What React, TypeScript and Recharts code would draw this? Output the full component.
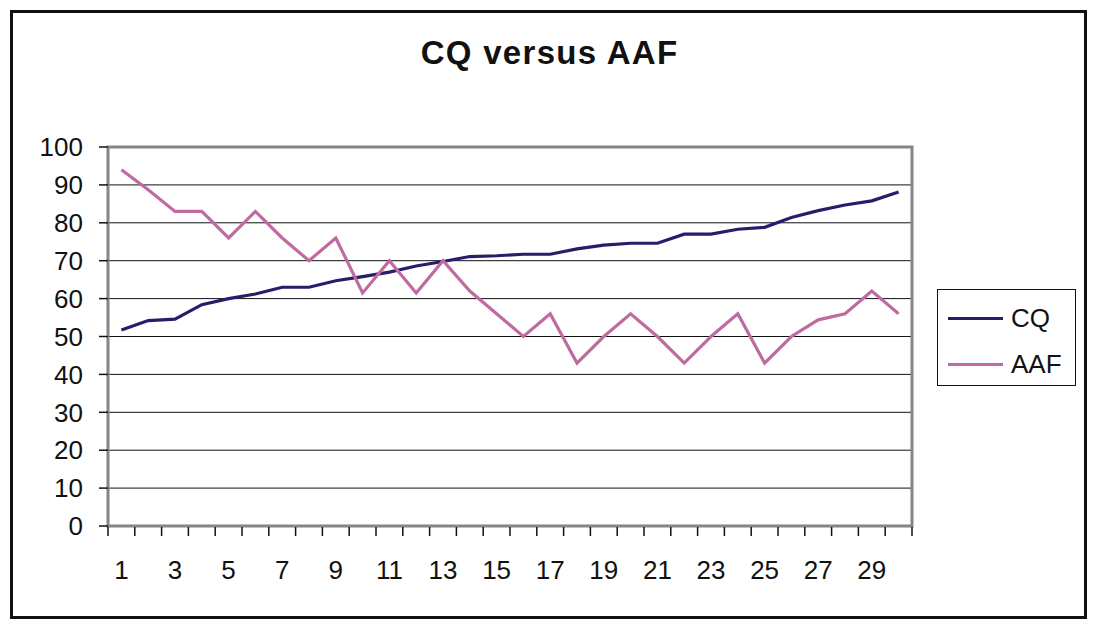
import React from "react";
import {
  LineChart,
  Line,
  XAxis,
  YAxis,
  CartesianGrid,
  ReferenceArea,
} from "recharts";

// values
const categories = [
  1, 2, 3, 4, 5, 6, 7, 8, 9, 10, 11, 12, 13, 14, 15, 16, 17, 18, 19, 20, 21, 22, 23, 24, 25, 26, 27, 28, 29, 30,
];
const cqValues = [
  51.7, 54.2, 54.6, 58.4, 60, 61.2, 63, 63, 64.7, 65.8, 67, 68.6, 69.8, 71.1, 71.3, 71.7, 71.7, 73.1, 74.1, 74.6,
  74.6, 77, 77, 78.3, 78.8, 81.4, 83.2, 84.7, 85.8, 88.1,
];
const aafValues = [
  94, 88.7, 83, 83, 76, 83, 76, 70, 76, 61.5, 70, 61.5, 70, 62, 56, 50, 56, 43, 50, 56, 50, 43, 50, 56, 43, 50,
  54.4, 56, 62, 56,
];
const yTicks = [0, 10, 20, 30, 40, 50, 60, 70, 80, 90, 100];
const xLabels = categories.filter((c) => c % 2 === 1);

const CQ_COLOR = "#2b1b6b";
const AAF_COLOR = "#bf6ba0";
const FONT = "'Liberation Sans', Arial, sans-serif";

const data = categories.map((c, i) => ({ x: c, cq: cqValues[i], aaf: aafValues[i] }));
const bandEdges = [...categories.map((c) => c - 0.5), categories[categories.length - 1] + 0.5];
const xDomain = [bandEdges[0], bandEdges[bandEdges.length - 1]];
// tick marks sit between categories, labels on every other category
const xTicks = [...bandEdges, ...xLabels].sort((a, b) => a - b);

function XTick({ x, y, payload }: any) {
  const v = payload.value;
  if (!Number.isInteger(v)) {
    return <line x1={x} x2={x} y1={y + 1} y2={y + 10} stroke="#111" strokeWidth={1.5} />;
  }
  return (
    <text x={x} y={y + 35} dy="0.71em" textAnchor="middle" fill="#111" fontSize={26} fontFamily={FONT}>
      {v}
    </text>
  );
}

function LegendBox() {
  const items = [
    { name: "CQ", color: CQ_COLOR },
    { name: "AAF", color: AAF_COLOR },
  ];
  return (
    <div
      style={{
        position: "absolute",
        left: 937,
        top: 289,
        width: 137,
        height: 87,
        border: "1px solid #111",
        background: "#fff",
        fontFamily: FONT,
        fontSize: 26,
        color: "#111",
        paddingTop: 5,
        paddingBottom: 3,
      }}
    >
      {items.map((it) => (
        <div key={it.name} style={{ display: "flex", alignItems: "center", height: 46 }}>
          <div style={{ width: 55, height: 3, background: it.color, marginLeft: 10, marginRight: 8 }} />
          <span>{it.name}</span>
        </div>
      ))}
    </div>
  );
}

export default function App() {
  return (
    <div style={{ position: "fixed", left: 0, top: 0, width: 1099, height: 631, background: "#fff" }}>
      <div
        style={{
          position: "absolute",
          left: 10,
          top: 10,
          width: 1071,
          height: 603,
          border: "3px solid #111",
        }}
      />
      <div
        style={{
          position: "absolute",
          left: 0,
          width: 1099,
          top: 34,
          textAlign: "center",
          fontFamily: FONT,
          fontWeight: "bold",
          fontSize: 33,
          letterSpacing: 1.3,
          color: "#111",
        }}
      >
        CQ versus AAF
      </div>
      <div style={{ position: "absolute", left: 0, top: 0 }}>
        <LineChart width={1099} height={631} data={data} margin={{ top: 147, right: 187, bottom: 15, left: 8 }}>
          <CartesianGrid vertical={false} stroke="#111" strokeWidth={1} />
          <XAxis
            dataKey="x"
            type="number"
            domain={xDomain}
            ticks={xTicks}
            interval={0}
            height={90}
            tickSize={0}
            tickMargin={0}
            axisLine={false}
            tickLine={false}
            tick={<XTick />}
          />
          <YAxis
            domain={[0, 100]}
            ticks={yTicks}
            interval={0}
            width={100}
            tickSize={9}
            tickMargin={16}
            axisLine={false}
            tickLine={{ stroke: "#111", strokeWidth: 1.5 }}
            tick={{ fill: "#111", fontSize: 26, fontFamily: FONT }}
          />
          <ReferenceArea
            x1={xDomain[0]}
            x2={xDomain[1]}
            y1={0}
            y2={100}
            fill="none"
            stroke="#80868a"
            strokeWidth={3}
            fillOpacity={0}
          />
          <Line
            type="linear"
            dataKey="cq"
            name="CQ"
            stroke={CQ_COLOR}
            strokeWidth={3.2}
            dot={false}
            isAnimationActive={false}
          />
          <Line
            type="linear"
            dataKey="aaf"
            name="AAF"
            stroke={AAF_COLOR}
            strokeWidth={3.2}
            dot={false}
            isAnimationActive={false}
          />
        </LineChart>
      </div>
      <LegendBox />
    </div>
  );
}
